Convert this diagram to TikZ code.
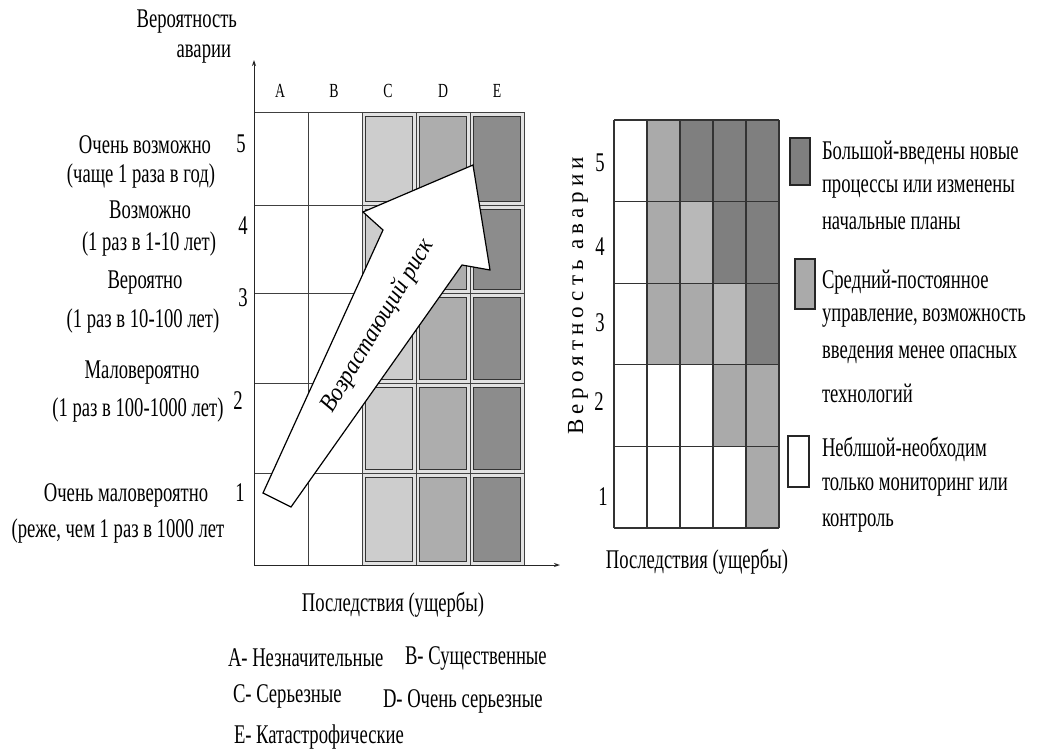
\documentclass[tikz,border=0pt]{standalone}
\usepackage{fontspec}
\setmainfont{Liberation Serif}[FakeStretch=0.69]
\newfontfamily\arrowfont{Liberation Serif}[FakeStretch=0.9]
\newfontfamily\spacedfont{Liberation Serif}[LetterSpace=22]
\usetikzlibrary{arrows.meta}
\definecolor{cellC}{HTML}{CDCDCD}
\definecolor{cellD}{HTML}{ADADAD}
\definecolor{cellE}{HTML}{8C8C8C}
\definecolor{ringc}{HTML}{E2E2E2}
\definecolor{rdk}{HTML}{7F7F7F}
\definecolor{rmd}{HTML}{AAAAAA}
\definecolor{rlt}{HTML}{B8B8B8}
\tikzset{
  lbl/.style={font=\fontsize{27}{31}\selectfont},
  collbl/.style={font=\fontsize{20}{23}\selectfont},
  arrowtxt/.style={font=\arrowfont\itshape\fontsize{25}{28}\selectfont},
  vlbl/.style={font=\spacedfont\fontsize{23}{26}\selectfont},
  gridl/.style={draw=black!75, line width=1pt},
  rgrid/.style={draw=black!80, line width=1.2pt},
  innerbox/.style={draw=black!80, line width=1pt},
  axis/.style={draw=black!85, line width=1pt, -{Stealth[length=6pt,width=4pt]}},
  bigarrow/.style={draw=black, line width=1.2pt, fill=white, line join=miter},
  legbox/.style={draw=black!85, line width=1.2pt},
}
\begin{document}
\begin{tikzpicture}[x=1pt,y=-1pt, every node/.style={inner sep=0pt, outer sep=0pt}]
\useasboundingbox (0,0) rectangle (1050,753);
\fill[white] (0,0) rectangle (1050,753);

% ---------- left chart: cells ----------
\foreach \x/\col in {362/cellC, 416/cellD, 470/cellE}
  \foreach \yt/\yb in {112/205, 205/293, 293/383, 383/473, 473/565} {
    \fill[ringc] (\x,\yt) rectangle ({\x+54},\yb);
    \draw[innerbox, fill=\col] ({\x+3.5},{\yt+4}) rectangle ({\x+50.5},{\yb-4});
  }
\foreach \x in {308,362,416,470,524} \draw[gridl] (\x,112) -- (\x,565);
\foreach \y in {112,205,293,383,473} \draw[gridl] (254,\y) -- (524,\y);

% axes
\coordinate (O) at (254,565);
\coordinate (Ytop) at (254,60);
\coordinate (Xend) at (560,565);
\draw[axis] (O) -- (Ytop);
\draw[axis] (O) -- (Xend);

% column letters
\node[collbl] (cA) at (280,91) {A};
\node[collbl] (cB) at (334,91) {B};
\node[collbl] (cC) at (388,91) {C};
\node[collbl] (cD) at (443,91) {D};
\node[collbl] (cE) at (497,91) {E};

% big arrow
\draw[bigarrow] (263,493) -- (383,230) -- (363,212) -- (473,165) -- (490,270) -- (462,265) -- (291,507) -- cycle;
\node[arrowtxt, rotate=59] (risk) at (378,326) {Возрастающий риск};

% y-axis title
\node[lbl, anchor=east] (yt1) at (237,22) {Вероятность};
\node[lbl, anchor=east] (yt2) at (231,54) {аварии};

% row labels
\node[lbl] (l5a) at (145,145) {Очень возможно};
\node[lbl] (l5b) at (141,176) {(чаще 1 раза в год)};
\node[lbl] (l4a) at (150,210) {Возможно};
\node[lbl] (l4b) at (149,244) {(1 раз в 1-10 лет)};
\node[lbl] (l3a) at (145,283) {Вероятно};
\node[lbl] (l3b) at (143,321) {(1 раз в 10-100 лет)};
\node[lbl] (l2a) at (142,373) {Маловероятно};
\node[lbl] (l2b) at (138,410) {(1 раз в 100-1000 лет)};
\node[lbl] (l1a) at (126,495) {Очень маловероятно};
\node[lbl] (l1b) at (118,531) {(реже, чем 1 раз в 1000 лет};

\node[lbl] (n5) at (241,144) {5};
\node[lbl] (n4) at (243,226) {4};
\node[lbl] (n3) at (243,298) {3};
\node[lbl] (n2) at (238,401) {2};
\node[lbl] (n1) at (240,493) {1};

% x-axis title and key
\node[lbl] (xt) at (393,605) {Последствия (ущербы)};
\node[lbl, anchor=west] (kA) at (228,658) {А- Незначительные};
\node[lbl, anchor=west] (kB) at (405,658) {В- Существенные};
\node[lbl, anchor=west] (kC) at (233,696) {С- Серьезные};
\node[lbl, anchor=west] (kD) at (383,701) {D- Очень серьезные};
\node[lbl, anchor=west] (kE) at (234,737) {Е- Катастрофические};

% ---------- right chart ----------
\foreach \i/\j/\c in {1/0/rmd,2/0/rdk,3/0/rdk,4/0/rdk,
                      1/1/rmd,2/1/rlt,3/1/rdk,4/1/rdk,
                      1/2/rmd,2/2/rmd,3/2/rlt,4/2/rdk,
                      3/3/rmd,4/3/rmd,
                      4/4/rmd}
  \fill[\c] ({614+33*\i},{120+81.6*\j}) rectangle ++(33,81.6);
\foreach \i in {0,...,5} \draw[rgrid] ({614+33*\i},120) -- ({614+33*\i},528);
\foreach \j in {0,...,5} \draw[rgrid] (614,{120+81.6*\j}) -- (779,{120+81.6*\j});

\node[vlbl, rotate=90] (rv) at (578,296) {Вероятность аварии};
\node[lbl] (r5) at (600,163) {5};
\node[lbl] (r4) at (600,247) {4};
\node[lbl] (r3) at (600,323) {3};
\node[lbl] (r2) at (599,402) {2};
\node[lbl] (r1) at (603,497) {1};
\node[lbl] (rx) at (697,562) {Последствия (ущербы)};

% legend
\draw[legbox, fill=rdk] (790,138) rectangle (810,185);
\draw[legbox, fill=rmd] (795,259) rectangle (815,309);
\draw[legbox, fill=white] (788,436) rectangle (809,487);

\node[lbl, anchor=west] (g1a) at (822,153) {Большой-введены новые};
\node[lbl, anchor=west] (g1b) at (822,189) {процессы или изменены};
\node[lbl, anchor=west] (g1c) at (822,223) {начальные планы};
\node[lbl, anchor=west] (g2a) at (822,282) {Средний-постоянное};
\node[lbl, anchor=west] (g2b) at (822,318) {управление, возможность};
\node[lbl, anchor=west] (g2c) at (822,355) {введения менее опасных};
\node[lbl, anchor=west] (g2d) at (822,393) {технологий};
\node[lbl, anchor=west] (g3a) at (822,449) {Неблшой-необходим};
\node[lbl, anchor=west] (g3b) at (822,487) {только мониторинг или};
\node[lbl, anchor=west] (g3c) at (822,523) {контроль};
\end{tikzpicture}
\end{document}
